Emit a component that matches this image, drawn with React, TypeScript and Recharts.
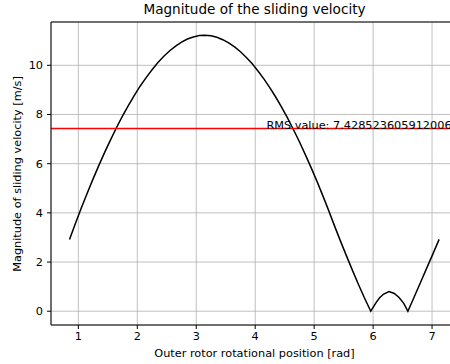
import React from 'react';
import {
  LineChart,
  Line,
  XAxis,
  YAxis,
  CartesianGrid,
  ReferenceLine,
  ReferenceDot,
} from 'recharts';

// rotor position [rad]
const positions = [
  0.85, 0.95, 1.05, 1.15, 1.25, 1.35, 1.45, 1.55, 1.65, 1.75, 1.85, 1.95, 2.05, 2.15, 2.25,
  2.35, 2.45, 2.55, 2.65, 2.75, 2.85, 2.95, 3.05, 3.15, 3.25, 3.35, 3.45, 3.55, 3.65, 3.75,
  3.85, 3.95, 4.05, 4.15, 4.25, 4.35, 4.45, 4.55, 4.65, 4.75, 4.85, 4.95, 5.05, 5.15, 5.25,
  5.35, 5.45, 5.55, 5.65, 5.75, 5.85, 5.96, 6.05, 6.11, 6.18, 6.27, 6.36, 6.44, 6.52, 6.59,
  6.7, 6.8, 6.9, 7.0, 7.12,
];

// sliding velocity magnitude [m/s]
const velocity = [
  2.92, 3.57, 4.2, 4.8, 5.38, 5.94, 6.48, 6.99, 7.48, 7.94, 8.37, 8.78, 9.16, 9.5, 9.82,
  10.11, 10.37, 10.59, 10.78, 10.94, 11.07, 11.15, 11.21, 11.22, 11.2, 11.14, 11.04, 10.91, 10.75, 10.55,
  10.32, 10.06, 9.76, 9.44, 9.08, 8.7, 8.29, 7.85, 7.38, 6.89, 6.37, 5.83, 5.27, 4.68, 4.07,
  3.44, 2.83, 2.24, 1.66, 1.1, 0.56, 0.0, 0.35, 0.55, 0.7, 0.8, 0.72, 0.56, 0.32, 0.0,
  0.6, 1.15, 1.7, 2.25, 2.92,
];

const rmsValue = 7.428523605912006;
const rmsLabelX = 4.19;

const xTicks = [1, 2, 3, 4, 5, 6, 7];
const yTicks = [0, 2, 4, 6, 8, 10];

const xDomain = [0.536, 7.44];
const yDomain = [-0.56, 11.76];

const data = positions.map((x, i) => ({ x, v: velocity[i] }));

const font = 'DejaVu Sans, sans-serif';
const fs = 11.3;

export default function App() {
  return (
    <div
      style={{
        position: 'fixed',
        left: 0,
        top: 0,
        width: 450,
        height: 364,
        overflow: 'hidden',
        background: '#fff',
        fontFamily: font,
      }}
    >
      <div
        style={{
          position: 'absolute',
          left: 0,
          width: 509,
          top: 1,
          textAlign: 'center',
          fontSize: 13.6,
          color: '#000',
          whiteSpace: 'nowrap',
        }}
      >
        Magnitude of the sliding velocity
      </div>
      <LineChart
        width={466}
        height={364}
        data={data}
        margin={{ top: 22, right: 8, left: 0, bottom: 0 }}
        style={{ position: 'absolute', left: 0, top: 0 }}
      >
        <CartesianGrid stroke="#b0b0b0" strokeWidth={0.8} />
        <XAxis
          dataKey="x"
          type="number"
          domain={xDomain}
          ticks={xTicks}
          allowDataOverflow
          height={39}
          tickSize={4}
          tickMargin={3}
          stroke="#000"
          tick={{ fill: '#000', fontSize: fs, fontFamily: font }}
          label={{
            content: () => (
              <text x={254.5} y={357} textAnchor="middle" fontSize={fs} fontFamily={font} fill="#000">
                Outer rotor rotational position [rad]
              </text>
            ),
          }}
        />
        <YAxis
          type="number"
          domain={yDomain}
          ticks={yTicks}
          allowDataOverflow
          width={51}
          tickSize={4}
          tickMargin={4}
          stroke="#000"
          tick={{ fill: '#000', fontSize: fs, fontFamily: font }}
          label={{
            content: () => (
              <text
                x={18}
                y={174}
                textAnchor="middle"
                dominantBaseline="middle"
                transform="rotate(-90 18 174)"
                fontSize={fs}
                fontFamily={font}
                fill="#000"
              >
                Magnitude of sliding velocity [m/s]
              </text>
            ),
          }}
        />
        <ReferenceLine y={yDomain[1]} stroke="#000" strokeWidth={1} />
        <Line
          type="linear"
          dataKey="v"
          stroke="#000"
          strokeWidth={1.5}
          dot={false}
          isAnimationActive={false}
        />
        <ReferenceLine y={rmsValue} stroke="#ff0000" strokeWidth={1.5} />
        <ReferenceDot
          x={rmsLabelX}
          y={rmsValue}
          r={0}
          shape={(p: any) => (
            <text x={p.cx} y={p.cy} fontSize={fs} fontFamily={font} fill="#000">
              RMS value: {rmsValue}
            </text>
          )}
        />
      </LineChart>
    </div>
  );
}
